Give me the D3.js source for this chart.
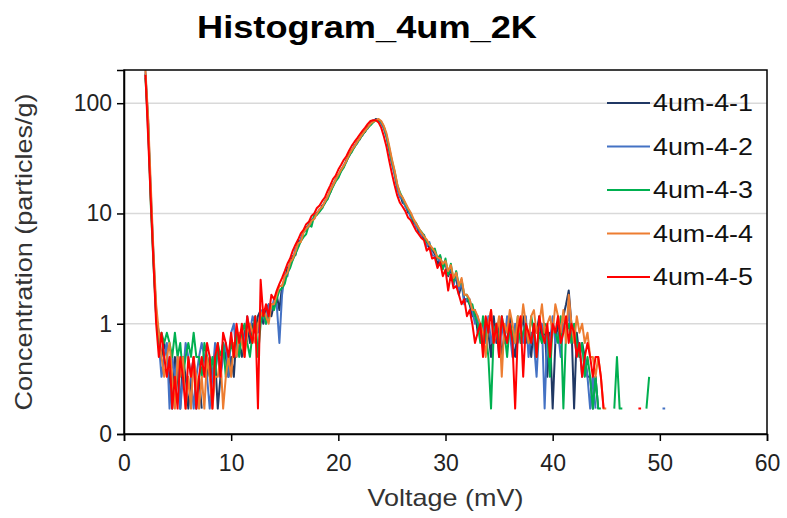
<!DOCTYPE html>
<html>
<head>
<meta charset="utf-8">
<script src="https://cdn.jsdelivr.net/npm/d3@7/dist/d3.min.js"></script>
<style>
  body { margin: 0; background: #fff; }
  svg { display: block; font-family: "Liberation Sans", Arial, sans-serif; }
</style>
</head>
<body>
<script>
// Histogram bins: 0.25 mV wide, first bin at 2 mV (null = empty bin)
var binStart = 2.0, binStep = 0.25;

var seriesNames = ["4um-4-1", "4um-4-2", "4um-4-3", "4um-4-4", "4um-4-5"];
var seriesColors = ["#203864", "#4472c4", "#00b050", "#ed7d31", "#ff0000"];

var xTicks = [0, 10, 20, 30, 40, 50, 60];
var yTicks = [0.1, 1, 10, 100];
var yTickLabels = ["0", "1", "10", "100"];

// one row per mV: v, v+.25, v+.5, v+.75
var s1 = [
  185, 70, 14, 4.2,
  1.17, 0.83, 0.5, 0.67,
  0.5, 0.33, 0.17, 0.5,
  0.33, 0.17, 0.5, 0.33,
  0.17, 0.33, 0.5, 0.17,
  0.33, 0.17, null, 0.33,
  0.5, 0.33, 0.5, 0.17,
  0.33, 0.67, 0.5, 0.33,
  0.5, 0.33, 0.83, 0.67,
  0.5, 0.83, 1, 0.67,
  1, 0.83, 1.17, 1.33,
  1, 1.33, 1.5, 1.17,
  1.5, 1.83, 1.33, 2.2,
  2.5, 3.2, 3.4, 4.1,
  4.2, 5.6, 5.7, 6.8,
  7.5, 7.6, 8.8, 9,
  10.2, 10.5, 11.8, 12.4,
  14.2, 15.5, 18.3, 20,
  21.5, 25, 26.5, 30.5,
  33, 37.5, 40, 45,
  47, 53, 55, 61,
  64, 68, 72, 70,
  67, 60, 50, 38,
  29, 23, 17.5, 15,
  12.5, 12, 10.2, 9.8,
  8.2, 8, 6.8, 6.6,
  5.8, 5.6, 4.8, 4.7,
  4.3, 3.4, 4.1, 3.2,
  3.6, 2.7, 3.1, 2.4,
  2.6, 1.83, 2.3, 1.67,
  1.67, 1.5, 1.17, 1.33,
  0.83, 1, 0.67, 1,
  0.83, 0.5, 1.17, 0.67,
  1, 0.5, 0.83, 0.67,
  1.17, 0.67, 0.5, 1,
  0.83, 1.17, 0.67, 0.83,
  0.5, 1, 0.83, 1.17,
  0.67, 1, 0.33, 0.83,
  0.17, 0.67, 1, 0.83,
  1.17, 1.5, 2, 1,
  0.17, 0.83, 0.5, 0.67,
  0.5, 0.33, 0.33, 0.17,
  0.33, 0.17, null, 0.17,
  null, null, null, null,
  null, null, null, null,
  null, null, null, null,
  null, null, null, null,
  null, null, null, null,
  null, null, null
];

var s2 = [
  195, 55, 16, 3.8,
  1.33, 0.67, 0.33, 0.5,
  0.67, 0.17, 0.5, 0.33,
  0.5, 0.17, 0.33, 0.67,
  0.5, 0.33, 0.17, 0.33,
  0.5, 0.67, 0.5, 0.33,
  0.17, 0.33, 0.67, 0.5,
  0.33, 0.5, 0.67, 0.33,
  0.83, 1, 0.5, 0.67,
  0.83, 0.67, 1.17, 0.83,
  1.17, 1, 0.83, 1.33,
  1.17, 1, 1.5, 1.33,
  1.67, 1.5, 0.67, 1.83,
  2.8, 2.7, 3.7, 3.8,
  4.8, 5, 5.9, 6.8,
  7, 8.1, 8.3, 9.5,
  9.8, 11, 11.2, 13,
  13.6, 16.5, 17.5, 20.5,
  22.5, 24, 27.5, 29.5,
  34.5, 36.5, 41.5, 43,
  48.5, 51, 57, 59,
  66, 70, 70, 71,
  65, 59, 49, 37,
  28.5, 22.5, 16.5, 14,
  13.5, 11.5, 10.8, 9.2,
  8.8, 7.5, 7.2, 6.3,
  6.4, 5, 5.5, 4.2,
  4.1, 4, 3.6, 3.6,
  3.5, 2.8, 3.3, 2.2,
  2.9, 2, 2.4, 1.5,
  1.67, 1.67, 1.33, 1,
  1.17, 0.83, 1, 0.67,
  1.17, 0.67, 0.83, 1,
  0.5, 1, 0.67, 1.17,
  0.83, 0.5, 1, 0.67,
  1, 0.67, 1.17, 0.5,
  0.83, 0.67, 0.33, 1,
  1, 0.17, 0.83, 0.67,
  1.17, 0.67, 0.83, 0.5,
  1, 0.83, 1.33, 0.67,
  0.83, 0.5, 0.67, 0.33,
  0.5, 0.33, 0.17, 0.33,
  0.17, null, 0.17, null,
  null, null, null, null,
  null, null, null, null,
  null, null, null, null,
  null, null, null, null,
  null, null, null, null,
  null, 0.17, 0.17
];

var s3 = [
  170, 65, 12, 3.5,
  1.17, 0.67, 0.83, 0.67,
  0.83, 0.67, 0.5, 0.83,
  0.5, 0.67, 0.33, 0.5,
  0.67, 0.5, 0.83, 0.5,
  0.5, 0.33, 0.67, 0.5,
  0.33, 0.5, 0.33, 0.67,
  0.5, 0.67, 0.33, 0.5,
  0.67, 0.5, 0.83, 0.5,
  0.83, 1, 0.67, 0.5,
  0.83, 1.17, 0.5, 1,
  1.33, 1, 1.17, 1.5,
  1.33, 1.67, 2, 2.1,
  2.3, 2.9, 3.2, 3.8,
  4.3, 4.9, 5.6, 6.1,
  6.5, 7.9, 7.6, 9.6,
  9.7, 10.4, 11.2, 12.5,
  13.5, 15.5, 17.5, 19.5,
  21, 24, 26, 29.5,
  33.5, 36, 40, 43.5,
  47.5, 51.5, 55.5, 60,
  63, 67, 70, 71,
  68, 61, 51, 39,
  30, 24, 18, 15.5,
  13.8, 12.2, 11, 10,
  8.7, 8.2, 7.3, 6.8,
  6.3, 5.5, 5.3, 4.7,
  4.8, 3.9, 4.2, 3.1,
  3.9, 2.8, 3.5, 2.4,
  3, 2.2, 2.5, 1.83,
  1.83, 1.5, 1.5, 1.17,
  1, 0.67, 1.17, 0.83,
  0.5, 0.17, 0.83, 1,
  0.67, 1.17, 0.83, 0.5,
  1, 0.83, 0.67, 1.17,
  0.67, 0.83, 1, 0.67,
  1.17, 0.83, 0.5, 0.83,
  0.67, 1, 0.83, 0.33,
  1, 0.83, 0.67, 1.17,
  0.17, 0.83, 1, 0.67,
  1, 0.67, 0.5, 0.67,
  0.33, 0.5, 0.33, 0.17,
  0.33, 0.17, 0.17, null,
  null, null, null, 0.17,
  0.5, 0.17, 0.17, null,
  null, null, null, null,
  null, null, null, 0.17,
  0.33, null, null, null,
  null, null, null
];

var s4 = [
  200, 75, 18, 4.5,
  1.5, 0.83, 0.5, 0.33,
  0.5, 0.67, 0.33, 0.17,
  0.5, 0.33, 0.5, 0.17,
  0.33, 0.17, 0.5, 0.33,
  0.17, 0.33, 0.17, 0.5,
  0.33, 0.17, 0.33, 0.33,
  0.5, 0.17, 0.33, 0.5,
  0.33, 0.67, 0.5, 0.83,
  0.67, 0.5, 0.83, 1,
  0.83, 0.67, 1, 1.17,
  1.33, 1.17, 1, 1.5,
  1.5, 1.83, 2.2, 2.2,
  2.7, 2.9, 3.6, 3.9,
  4.5, 5.4, 5.5, 6.7,
  7.3, 7.7, 8.6, 8.9,
  10, 10.9, 11.5, 12.8,
  14.2, 16.2, 18, 20.2,
  22.5, 24.8, 27, 30,
  34, 37.5, 40.5, 44.5,
  48, 52.5, 56.5, 60.5,
  65, 68, 70, 72,
  69, 62, 53, 41,
  31, 24.5, 18.5, 15,
  14, 12.5, 11.2, 10.2,
  9, 8.1, 7.4, 6.7,
  6.2, 5.8, 5.2, 4.9,
  4.5, 4, 3.9, 3.5,
  3.7, 3, 3.4, 2.6,
  2.9, 2.2, 2.6, 1.83,
  1.83, 1.67, 1.33, 1.33,
  1.17, 1, 0.83, 0.5,
  1, 1.33, 0.67, 0.83,
  1.17, 0.33, 1, 0.83,
  1.33, 1, 0.67, 1.17,
  0.83, 1.5, 1, 0.67,
  1.17, 1.33, 0.83, 1,
  1.5, 0.83, 1, 1.17,
  0.83, 1.5, 1.17, 0.83,
  1.33, 0.67, 1.83, 1,
  0.67, 1.17, 0.83, 1,
  0.67, 0.83, 0.5, 0.5,
  0.33, 0.5, 0.33, 0.17,
  0.17, null, null, null,
  null, null, null, null,
  null, null, null, null,
  null, null, null, null,
  null, null, null, null,
  null, null, null
];

var s5 = [
  180, 50, 13, 3.6,
  1, 0.5, 0.83, 0.5,
  0.33, 0.5, 0.17, 0.33,
  0.17, 0.5, 0.33, 0.17,
  0.5, 0.33, 0.5, 0.17,
  0.33, 0.5, 0.33, 0.67,
  0.5, 0.17, 0.5, 0.67,
  0.33, 0.83, 0.67, 0.5,
  0.83, 0.5, 1, 0.67,
  1, 0.5, 1.17, 0.83,
  0.67, 1.17, 0.17, 2.5,
  1.17, 1.5, 1.17, 1.83,
  1.67, 2, 2.3, 2.6,
  3, 3.5, 3.9, 4.6,
  5.2, 5.8, 6.6, 7.1,
  8, 8.4, 9.5, 10,
  11.2, 11.8, 13, 14,
  16, 18, 20.5, 22,
  25, 27.5, 30.5, 33,
  37, 41, 44.5, 48,
  52, 56, 60, 65,
  69, 70, 70, 67,
  60, 50, 40, 30,
  23, 18, 14.5, 12.5,
  11.5, 10.5, 9.2, 8.7,
  7.8, 7, 6.5, 6,
  5.7, 4.6, 4.9, 3.9,
  4, 3.2, 3.6, 2.7,
  3.1, 2, 2.8, 2.1,
  2.2, 1.83, 1.5, 1.67,
  1.17, 1.33, 1, 0.67,
  0.83, 1, 0.5, 1.17,
  0.83, 1.33, 0.67, 1,
  0.5, 1.17, 0.83, 0.67,
  1, 0.67, 0.17, 0.83,
  1.17, 0.33, 1, 0.83,
  0.67, 1, 0.5, 1.17,
  0.83, 0.67, 1, 0.5,
  1, 0.83, 1.17, 0.67,
  0.83, 1.17, 0.67, 1,
  0.83, 0.5, 0.67, 0.33,
  0.5, 0.67, 0.5, 0.33,
  0.5, 0.5, 0.33, 0.17,
  null, null, null, null,
  null, null, null, null,
  null, null, null, null,
  0.17, 0.17, null, null,
  null, null, null, null,
  null, null, null
];

var allSeries = [s1, s2, s3, s4, s5];

var width = 787, height = 518;
var plot = {left: 124, right: 767, top: 70, bottom: 434};

var svg = d3.select("body").append("svg")
    .attr("width", width)
    .attr("height", height);

var x = d3.scaleLinear().domain([0, 60]).range([plot.left, plot.right]);
var y = d3.scaleLog().domain([0.1, 200]).range([plot.bottom, plot.top]);

// gridlines
svg.append("g")
    .selectAll("line")
    .data(yTicks.slice(1))
    .enter().append("line")
    .attr("x1", plot.left).attr("x2", plot.right)
    .attr("y1", function(d) { return y(d); })
    .attr("y2", function(d) { return y(d); })
    .attr("stroke", "#d9d9d9")
    .attr("stroke-width", 1.5);

svg.append("clipPath")
    .attr("id", "clip")
    .append("rect")
    .attr("x", plot.left).attr("y", plot.top)
    .attr("width", plot.right - plot.left)
    .attr("height", plot.bottom - plot.top);

var line = d3.line()
    .defined(function(d) { return d != null; })
    .x(function(d, i) { return x(binStart + i * binStep); })
    .y(function(d) { return y(d); });

allSeries.forEach(function(s, k) {
    svg.append("path")
        .attr("clip-path", "url(#clip)")
        .attr("d", line(s))
        .attr("fill", "none")
        .attr("stroke", seriesColors[k])
        .attr("stroke-width", 2)
        .attr("stroke-linejoin", "round");
});

// frame
svg.append("rect")
    .attr("x", plot.left).attr("y", plot.top)
    .attr("width", plot.right - plot.left)
    .attr("height", plot.bottom - plot.top)
    .attr("fill", "none")
    .attr("stroke", "#000")
    .attr("stroke-width", 1.5);

// axes
var xAxis = d3.axisBottom(x).tickValues(xTicks).tickSize(7).tickPadding(14);
var yAxis = d3.axisLeft(y).tickValues(yTicks)
    .tickFormat(function(d, i) { return yTickLabels[i]; })
    .tickSize(7).tickPadding(5);

var gx = svg.append("g")
    .attr("transform", "translate(0," + plot.bottom + ")")
    .call(xAxis);
var gy = svg.append("g")
    .attr("transform", "translate(" + plot.left + ",0)")
    .call(yAxis);

[gx, gy].forEach(function(g) {
    g.select(".domain").attr("stroke", "#000").attr("stroke-width", 1.5);
    g.selectAll(".tick line").attr("stroke", "#000").attr("stroke-width", 1.5);
    g.selectAll(".tick text")
        .attr("fill", "#222")
        .style("font-family", "'Liberation Sans', Arial, sans-serif")
        .style("font-size", "23px");
});

// titles
svg.append("text")
    .attr("x", 367).attr("y", 38)
    .attr("text-anchor", "middle")
    .attr("textLength", 340)
    .attr("lengthAdjust", "spacingAndGlyphs")
    .style("font-size", "32px")
    .style("font-weight", "bold")
    .attr("fill", "#000")
    .text("Histogram_4um_2K");

svg.append("text")
    .attr("x", (plot.left + plot.right) / 2).attr("y", 506)
    .attr("text-anchor", "middle")
    .attr("textLength", 156)
    .attr("lengthAdjust", "spacingAndGlyphs")
    .style("font-size", "24px")
    .attr("fill", "#333")
    .text("Voltage (mV)");

svg.append("text")
    .attr("transform", "translate(32," + (plot.top + plot.bottom) / 2 + ") rotate(-90)")
    .attr("text-anchor", "middle")
    .attr("textLength", 317)
    .attr("lengthAdjust", "spacingAndGlyphs")
    .style("font-size", "24px")
    .attr("fill", "#333")
    .text("Concentration (particles/g)");

// legend
var legend = svg.append("g").attr("transform", "translate(607,103)");
seriesNames.forEach(function(name, k) {
    var row = legend.append("g").attr("transform", "translate(0," + (k * 43.5) + ")");
    row.append("line")
        .attr("x1", 0).attr("x2", 43)
        .attr("stroke", seriesColors[k])
        .attr("stroke-width", 2);
    row.append("text")
        .attr("x", 46).attr("y", 8)
        .attr("textLength", 100)
        .attr("lengthAdjust", "spacingAndGlyphs")
        .style("font-size", "23px")
        .attr("fill", "#111")
        .text(name);
});
</script>
</body>
</html>
